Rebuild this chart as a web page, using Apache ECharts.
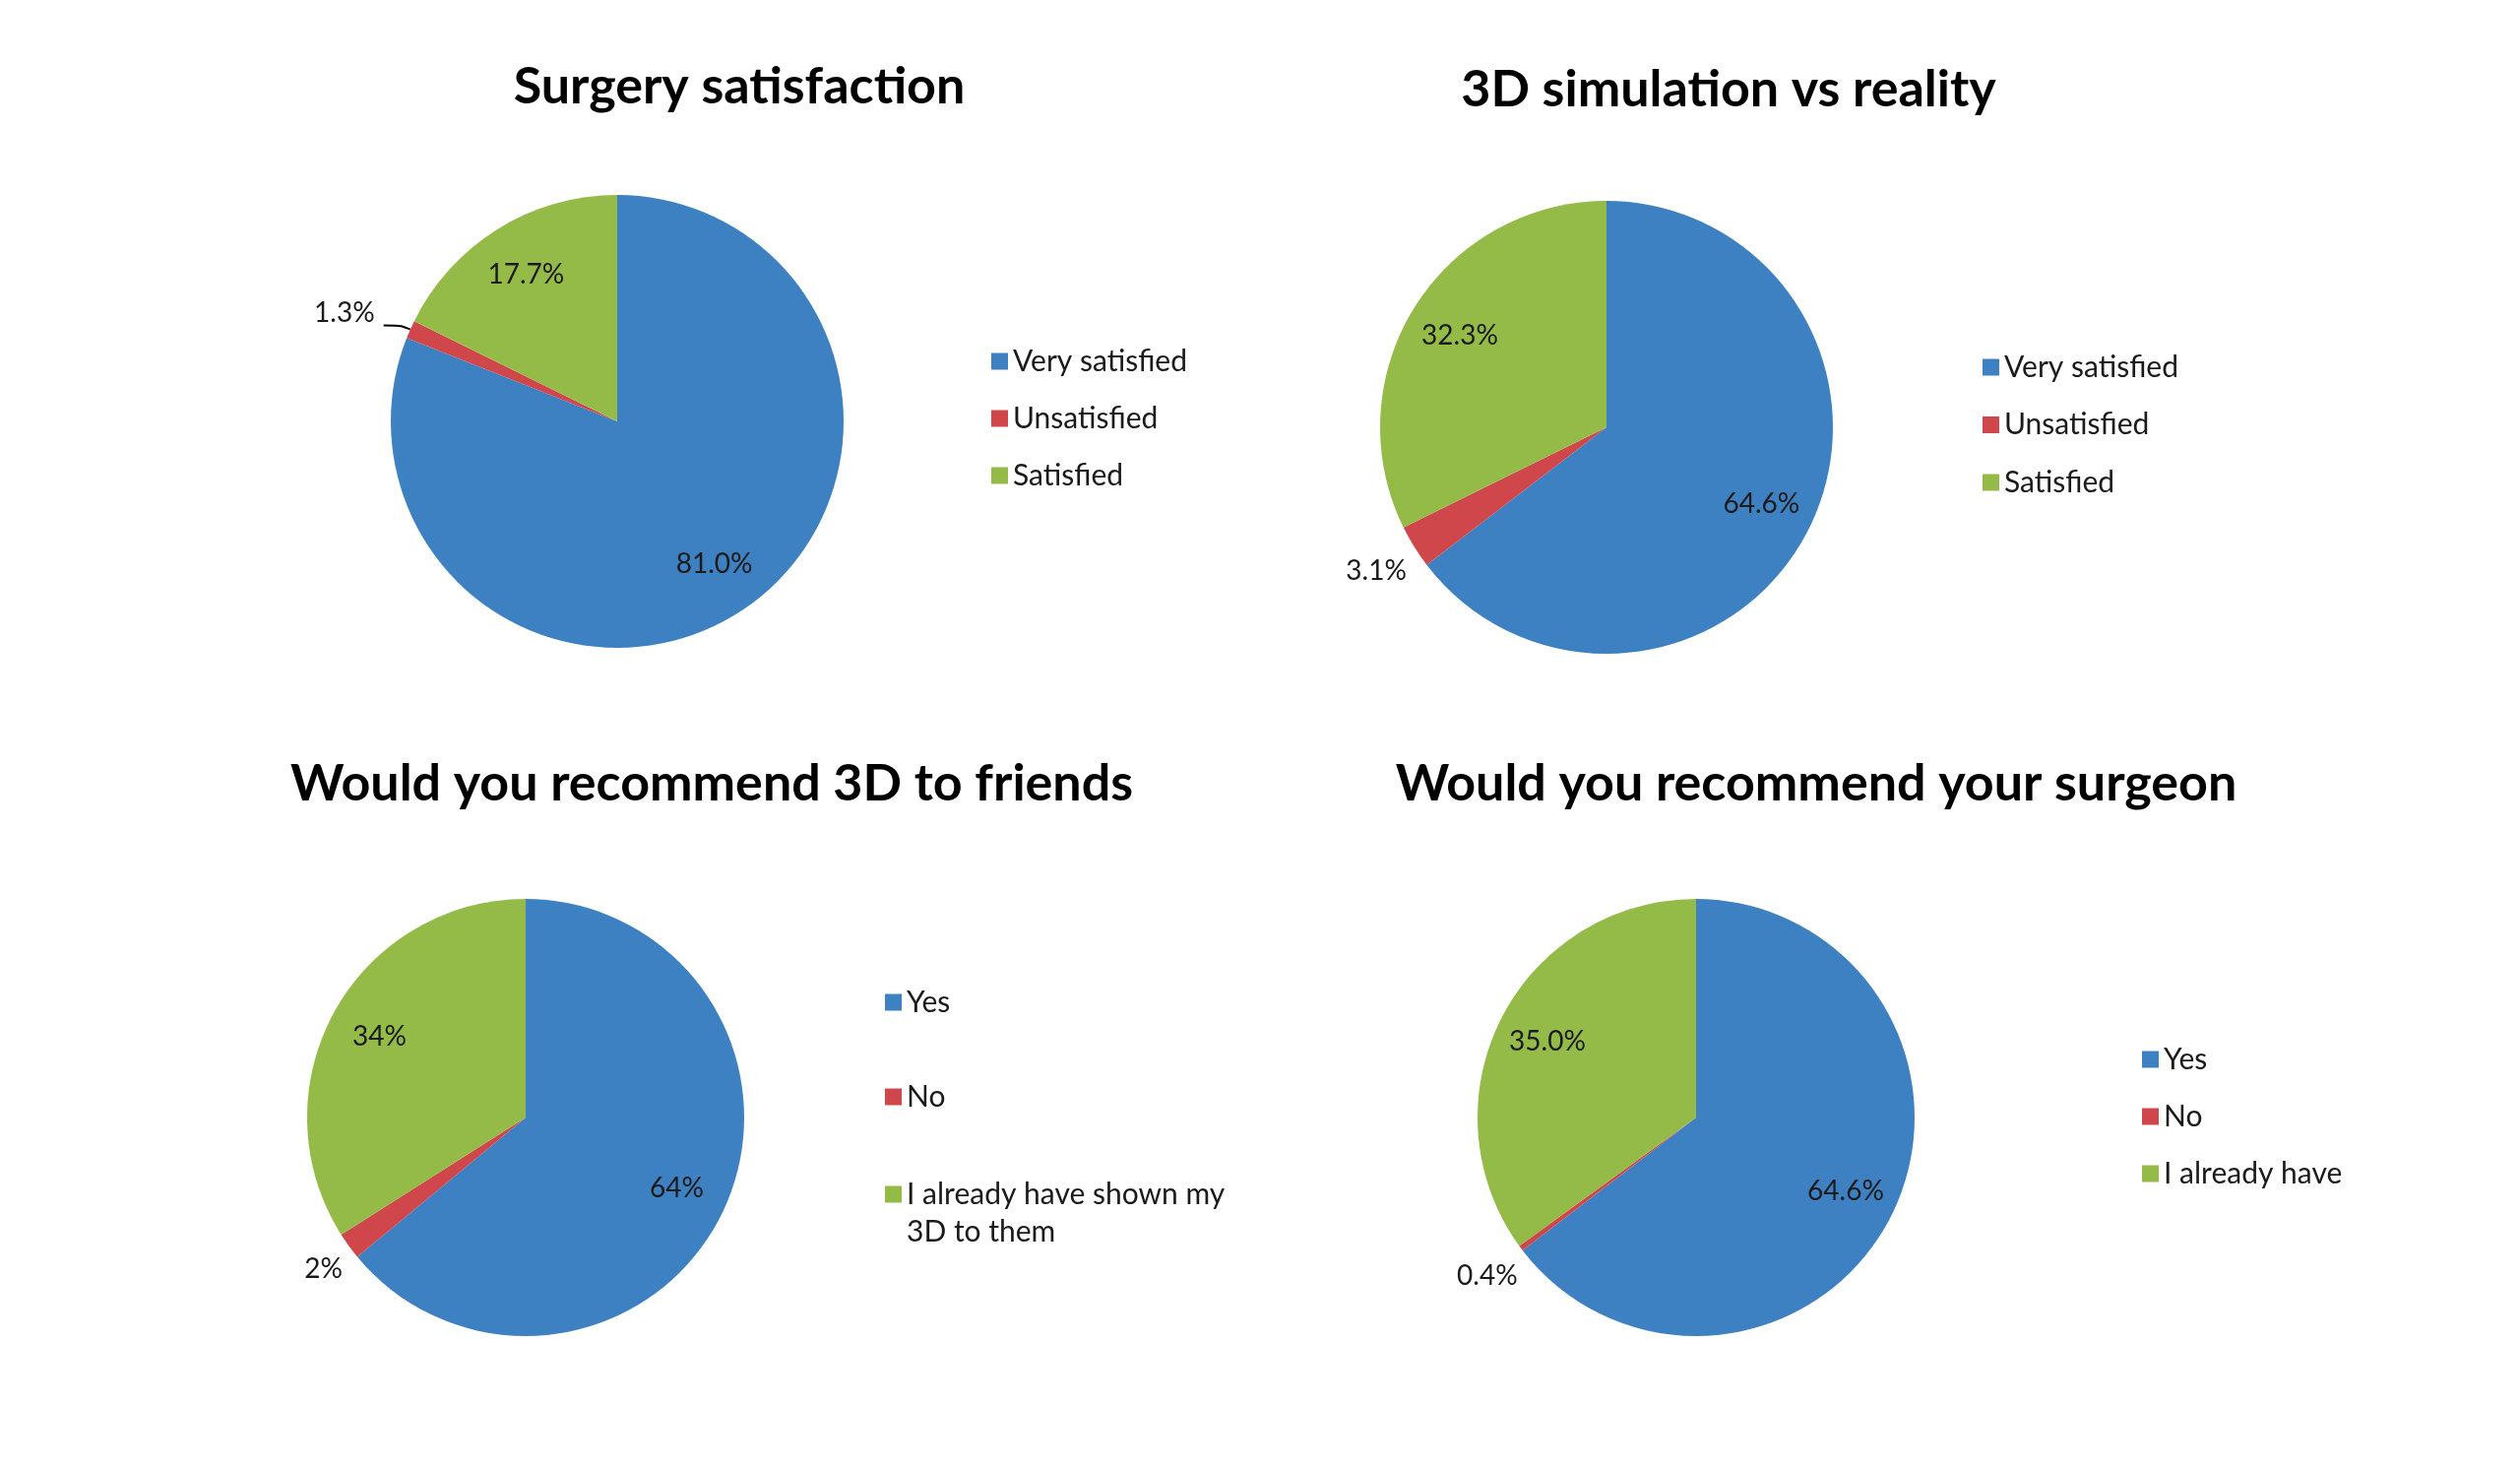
<!DOCTYPE html>
<html><head><meta charset="utf-8">
<script src="https://cdn.jsdelivr.net/npm/echarts@6/dist/echarts.min.js"></script>
<style>html,body{margin:0;padding:0;background:#fff}#c{width:2560px;height:1492px}</style>
</head><body><div id="c"></div>
<script>
// ---- data ----
const chartTitles = ['Surgery satisfaction', '3D simulation vs reality', 'Would you recommend 3D to friends', 'Would you recommend your surgeon'];
const satisfactionCategories = ['Very satisfied', 'Unsatisfied', 'Satisfied'];
const recommend3DCategories = ['Yes', 'No', 'I already have shown my\n3D to them'];
const recommendSurgeonCategories = ['Yes', 'No', 'I already have'];
const surgerySatisfactionValues = [81.0, 1.3, 17.7];
const simulationVsRealityValues = [64.6, 3.1, 32.3];
const recommend3DValues = [64, 2, 34];
const recommendSurgeonValues = [64.6, 0.4, 35.0];
const labelDecimals = [1, 1, 0, 1];

// ---- style / layout ----
const sliceColors = ['#3E81C3', '#D0474B', '#94BB48'];
const FONT = 'Lato';
const TEXT_COLOR = '#1a1a1a';
const panels = [
  { cats: satisfactionCategories, vals: surgerySatisfactionValues, center: [627, 428], r: 230, title: [751, 88],
    legend: { left: 1007, top: 352, gap: 28 }, line: true, shift: { dx: -4, dy: -13 } },
  { cats: satisfactionCategories, vals: simulationVsRealityValues, center: [1632, 434], r: 230, title: [1756, 91],
    legend: { left: 2014, top: 358, gap: 28.5 }, line: false, shift: { dx: 4, dy: 20 } },
  { cats: recommend3DCategories, vals: recommend3DValues, center: [534, 1135], r: 222, title: [723, 796],
    legend: { left: 899, top: 964, gap: 27 }, line: false, shift: { dx: 5, dy: 19 } },
  { cats: recommendSurgeonCategories, vals: recommendSurgeonValues, center: [1723, 1135], r: 222, title: [1845, 796],
    legend: { left: 2176, top: 1061, gap: 28 }, line: false, shift: { dx: 8, dy: 23 } }
];

const title = [], legend = [], series = [];
panels.forEach((p, k) => {
  const fmt = (v) => v.toFixed(labelDecimals[k]) + '%';
  title.push({
    text: chartTitles[k], left: p.title[0], top: p.title[1], padding: 0,
    textAlign: 'center', textVerticalAlign: 'middle',
    textStyle: { fontFamily: FONT, fontWeight: 'bold', fontSize: 52, color: '#000' }
  });
  let legendData = p.cats.slice();
  if (k === 2) {
    legendData = [
      { name: p.cats[0], textStyle: { padding: [39, 0, 39, 0] } },
      { name: p.cats[1] },
      { name: p.cats[2], textStyle: { padding: [38, 0, 0, 0],
          rich: { a: { fontFamily: FONT, fontSize: 30, lineHeight: 38, color: TEXT_COLOR } } } }
    ];
  }
  legend.push({
    orient: 'vertical', left: p.legend.left, top: p.legend.top, padding: 0,
    itemGap: p.legend.gap, itemWidth: 17, itemHeight: 17, icon: 'rect', selectedMode: false,
    data: legendData,
    formatter: (name) => name.indexOf('\n') >= 0 ? name.split('\n').map((s) => '{a|' + s + '}').join('\n') : name,
    textStyle: { fontFamily: FONT, fontSize: 30, color: TEXT_COLOR, lineHeight: 30 }
  });
  // main pie: slices + outside label of the small slice
  series.push({
    type: 'pie', center: p.center, radius: p.r, startAngle: 90, clockwise: true,
    avoidLabelOverlap: false, silent: true,
    itemStyle: { borderWidth: 0 },
    label: { show: false, position: 'outside', formatter: (d) => fmt(d.value),
      fontFamily: FONT, fontSize: 28, color: TEXT_COLOR, distanceToLabelLine: 5 },
    labelLine: { show: false, length: p.line ? 10 : 8, length2: p.line ? 18 : 0, smooth: 0.3,
      lineStyle: { color: '#000', width: 2 } },
    labelLayout: (params) => params.dataIndex === 1 ? { dx: p.shift.dx, dy: p.shift.dy } : {},
    data: p.cats.map((n, i) => {
      const item = { name: n, value: p.vals[i], itemStyle: { color: sliceColors[i] } };
      if (i === 1) { item.label = { show: true }; item.labelLine = { show: p.line }; }
      return item;
    })
  });
  // overlay ring for inside labels at ~3/4 radius
  series.push({
    type: 'pie', center: p.center, radius: [p.r / 2, p.r], startAngle: 90, clockwise: true,
    silent: true, avoidLabelOverlap: false,
    itemStyle: { color: 'rgba(0,0,0,0)', borderWidth: 0 },
    label: { show: true, position: 'inside', formatter: (d) => fmt(d.value),
      fontFamily: FONT, fontSize: 28, color: TEXT_COLOR },
    labelLine: { show: false },
    data: p.cats.map((n, i) => ({ name: n, value: p.vals[i], label: { show: i !== 1 } }))
  });
});

const chart = echarts.init(document.getElementById('c'));
chart.setOption({ backgroundColor: '#fff', animation: false, title, legend, series });
</script></body></html>
